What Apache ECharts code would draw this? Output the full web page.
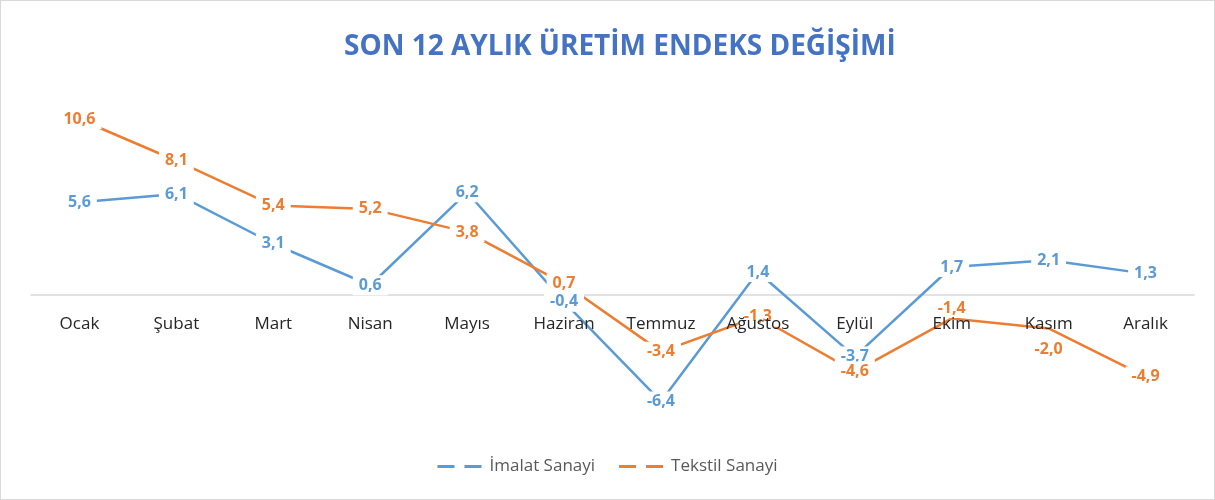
<!DOCTYPE html>
<html>
<head>
    <meta charset="UTF-8">
    <title>Son 12 Aylık Üretim Endeks Değişimi</title>
    <script src="https://cdn.jsdelivr.net/npm/echarts@6/dist/echarts.min.js"></script>
    <style>
        html, body { margin: 0; padding: 0; background: #fff; }
        #chart { width: 1215px; height: 500px; box-sizing: border-box; border: 1px solid #d9d9d9; }
    </style>
</head>
<body>
    <div id="chart"></div>

    <script>
        // data
        var months = ['Ocak', 'Şubat', 'Mart', 'Nisan', 'Mayıs', 'Haziran', 'Temmuz', 'Ağustos', 'Eylül', 'Ekim', 'Kasım', 'Aralık'];
        var imalat = [5.6, 6.1, 3.1, 0.6, 6.2, -0.4, -6.4, 1.4, -3.7, 1.7, 2.1, 1.3];
        var tekstil = [10.6, 8.1, 5.4, 5.2, 3.8, 0.7, -3.4, -1.3, -4.6, -1.4, -2.0, -4.9];

        var blue = '#5B9BD5';
        var orange = '#ED7D31';
        var font = '"Open Sans", "DejaVu Sans", sans-serif';

        // Excel puts some labels above / below the point
        var tekstilPos = { 9: ['top', 0], 10: ['bottom', 11] };

        function labelled(values, posMap) {
            return values.map(function (v, i) {
                var item = { value: v };
                if (posMap && posMap[i]) {
                    item.label = { position: posMap[i][0], distance: posMap[i][1] };
                }
                return item;
            });
        }

        function fmt(p) {
            return p.value.toFixed(1).replace('.', ',');
        }

        function makeSeries(name, values, color, posMap) {
            return {
                name: name,
                type: 'line',
                xAxisIndex: 0,
                data: labelled(values, posMap),
                symbol: 'circle',
                symbolSize: 1,
                lineStyle: { color: color, width: 2.5 },
                itemStyle: { color: color },
                label: {
                    show: true,
                    position: 'inside',
                    formatter: fmt,
                    color: color,
                    fontFamily: font,
                    fontSize: 16,
                    fontWeight: 'bold',
                    backgroundColor: '#fff',
                    padding: [2, 6]
                },
                emphasis: { disabled: true },
                animation: false
            };
        }

        var chart = echarts.init(document.getElementById('chart'), null, { renderer: 'canvas' });

        chart.setOption({
            backgroundColor: '#fff',
            title: {
                text: 'SON 12 AYLIK ÜRETİM ENDEKS DEĞİŞİMİ',
                left: 338,
                top: 27,
                textStyle: { color: '#4472C4', fontFamily: font, fontSize: 28, fontWeight: 'bold' }
            },
            legend: {
                bottom: 19,
                left: 'center',
                itemGap: 24,
                itemWidth: 44,
                itemHeight: 3,
                icon: 'path://M0,0h17v3h-17z M27,0h17v3h-17z',
                textStyle: { color: '#595959', fontFamily: font, fontSize: 17, padding: [0, 0, 0, 3] },
                data: [
                    { name: 'İmalat Sanayi', itemStyle: { color: blue } },
                    { name: 'Tekstil Sanayi', itemStyle: { color: orange } }
                ]
            },
            grid: { left: 30, right: 20, top: 95, bottom: 71 },
            xAxis: [
                {
                    // grey zero line
                    type: 'category',
                    data: months,
                    position: 'bottom',
                    axisLine: { show: true, onZero: true, lineStyle: { color: '#d9d9d9', width: 1.5 } },
                    axisTick: { show: false },
                    axisLabel: { show: false }
                },
                {
                    // month labels just under the zero line, drawn above the data labels
                    type: 'category',
                    data: months,
                    position: 'bottom',
                    offset: -133,
                    z: 10,
                    axisLine: { show: false, onZero: false },
                    axisTick: { show: false },
                    axisLabel: { margin: 21, color: '#262626', fontFamily: font, fontSize: 17 }
                }
            ],
            yAxis: {
                type: 'value',
                min: -8,
                max: 12,
                axisLine: { show: false },
                axisTick: { show: false },
                axisLabel: { show: false },
                splitLine: { show: false }
            },
            series: [
                makeSeries('İmalat Sanayi', imalat, blue),
                makeSeries('Tekstil Sanayi', tekstil, orange, tekstilPos)
            ]
        });
    </script>
</body>
</html>
